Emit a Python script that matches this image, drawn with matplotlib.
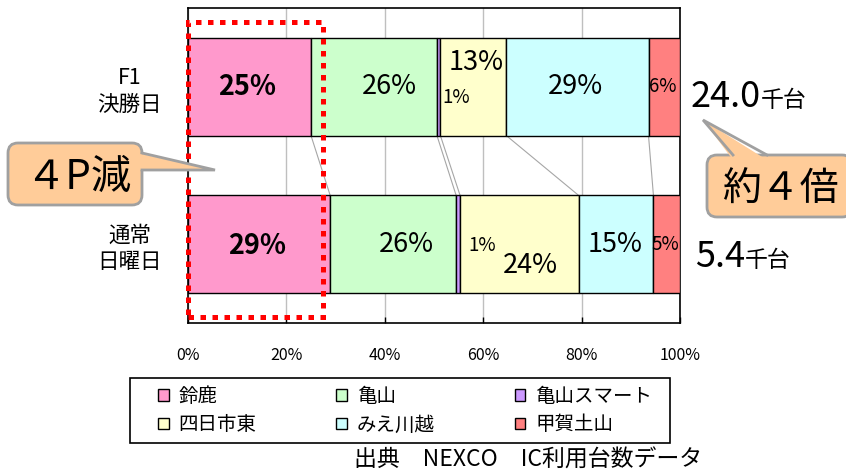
"""IC usage share: F1 race day vs. ordinary Sunday (100% stacked bars)."""

import matplotlib
matplotlib.use("Agg")
import matplotlib.pyplot as plt
from matplotlib.patches import Patch, Rectangle, FancyBboxPatch, Polygon
from matplotlib.lines import Line2D

plt.rcParams["font.family"] = ["Noto Sans CJK JP", "DejaVu Sans"]

W, H, DPI = 846, 476, 100

# ---------------------------------------------------------------------------
# data
# ---------------------------------------------------------------------------
categories = ["F1\n決勝日", "通常\n日曜日"]
ic_names = ["鈴鹿", "亀山", "亀山スマート", "四日市東", "みえ川越", "甲賀土山"]
share_f1 = [25.0, 25.6, 0.7, 13.4, 28.9, 6.4]
share_normal = [28.9, 25.6, 0.8, 24.1, 15.2, 5.4]
totals = [24.0, 5.4]          # 千台
x_ticks = [0, 20, 40, 60, 80, 100]

colors = ["#FF99CC", "#CCFFCC", "#CC99FF", "#FFFFCC", "#CCFFFF", "#FF8080"]

# label nudges in pixels (dx right, dy down) so the small segments stay readable
nudge_f1 = [(-2, 0), (15, 0), (18, 11), (3, -24), (-2, 0), (-2, 0)]
nudge_normal = [(-2, 2), (13, 0), (24, 1), (11, 21), (-1, 0), (-1, 0)]


def px(x, y):
    """pixel position (from top-left) -> inches for fig.dpi_scale_trans"""
    return x / DPI, (H - y) / DPI


fig = plt.figure(figsize=(W / DPI, H / DPI), dpi=DPI)
inch = fig.dpi_scale_trans

ax = fig.add_axes([188 / W, 1 - 323 / H, (680 - 188) / W, (323 - 8) / H])

bar_h = 0.62
rows = [share_f1, share_normal]
nudges = [nudge_f1, nudge_normal]
for yi, (shares, nudge) in enumerate(zip(rows, nudges)):
    left = 0.0
    for j, v in enumerate(shares):
        ax.barh(yi, v, left=left, height=bar_h, color=colors[j],
                edgecolor="black", linewidth=1.0, zorder=3)
        dx, dy = nudge[j]
        big = v >= 10
        ax.annotate(f"{v:.0f}%", (left + v / 2, yi),
                    xytext=(dx * 0.72, -dy * 0.72), textcoords="offset points",
                    ha="center", va="center",
                    fontsize=19.5 if big else 13.5,
                    fontweight="bold" if j == 0 else "normal",
                    zorder=5)
        left += v

# series lines between the two bars
cum_f1, cum_n = 0.0, 0.0
for a, b in zip(share_f1[:-1], share_normal[:-1]):
    cum_f1 += a
    cum_n += b
    ax.plot([cum_f1, cum_n], [bar_h / 2, 1 - bar_h / 2],
            color="#a6a6a6", lw=0.8, zorder=2)

ax.set_xlim(0, 100)
ax.set_ylim(1.5, -0.5)
ax.set_xticks(x_ticks)
ax.set_xticklabels([f"{t}%" for t in x_ticks], fontsize=11.5)
ax.tick_params(axis="x", direction="in", length=4, width=1, pad=17, color="black")
ax.set_yticks([0, 1])
ax.set_yticklabels(categories, fontsize=15.5, ha="center", linespacing=1.25)
ax.tick_params(axis="y", length=0, pad=42)
ax.grid(axis="x", color="#bfbfbf", lw=1, zorder=0)
for s in ax.spines.values():
    s.set_color("black")
    s.set_linewidth(1.2)

# totals
for label_y, tot, x0, unit_x in [(107, totals[0], 691, 761), (267, totals[1], 695, 745)]:
    fig.text(*px(x0, label_y), f"{tot:.1f}", transform=inch,
             fontsize=26, ha="left", va="baseline")
    fig.text(*px(unit_x, label_y), "千台", transform=inch,
             fontsize=16.5, ha="left", va="baseline")

# dotted red frame around the 鈴鹿 share
fig.add_artist(Rectangle(px(188, 317), (323 - 188) / DPI, (317 - 22) / DPI,
                         transform=inch, fill=False, edgecolor="#FF0000",
                         lw=3.6, linestyle=(0, (1.1, 1.3)), zorder=10))


def callout(box, tail, text, tx, ty, size):
    x0, y0, x1, y1 = box
    fig.add_artist(FancyBboxPatch(px(x0, y1), (x1 - x0) / DPI, (y1 - y0) / DPI,
                                  boxstyle="round,pad=0,rounding_size=0.1",
                                  transform=inch, facecolor="#FFCC99",
                                  edgecolor="#a0a0a0", lw=2, zorder=11))
    fill_pts, edge_pts = tail
    fig.add_artist(Polygon([px(*p) for p in fill_pts], closed=True,
                           transform=inch, facecolor="#FFCC99",
                           edgecolor="none", zorder=12))
    xs, ys = zip(*[px(*p) for p in edge_pts])
    fig.add_artist(Line2D(xs, ys, transform=inch, color="#a0a0a0",
                          lw=2, zorder=13, solid_joinstyle="miter"))
    fig.text(*px(tx, ty), text, transform=inch, fontsize=size,
             ha="center", va="center", zorder=14)


callout((8, 143, 142, 205),
        ([(137, 153), (215, 170), (137, 170)],
         [(142, 153), (215, 170), (142, 170)]),
        "４P減", 78, 177, 29)
callout((707, 155, 852, 217),
        ([(733, 160), (703, 120), (767, 160)],
         [(733, 155), (703, 120), (767, 155)]),
        "約４倍", 780, 190, 28)

# legend (frame drawn separately so the entries can sit inside it freely)
handles = [Patch(facecolor=c, edgecolor="black", lw=1) for c in colors]
order = [0, 3, 1, 4, 2, 5]
fig.legend([handles[i] for i in order], [ic_names[i] for i in order],
           ncol=3, loc="center", mode="expand",
           bbox_to_anchor=(158 / W, 1 - 443 / H, (652 - 158) / W, 65 / H),
           frameon=False, fontsize=14, borderpad=0, borderaxespad=0,
           handlelength=0.55, handleheight=0.55, handletextpad=0.5,
           labelspacing=0.4)
fig.add_artist(Rectangle(px(130, 443), (670 - 130) / DPI, (443 - 378) / DPI,
                         transform=inch, fill=False, edgecolor="black", lw=1.2))

fig.text(*px(702, 460), "出典　NEXCO　IC利用台数データ", transform=inch,
         fontsize=16.5, ha="right", va="center")

fig.savefig("out.png", dpi=DPI)
